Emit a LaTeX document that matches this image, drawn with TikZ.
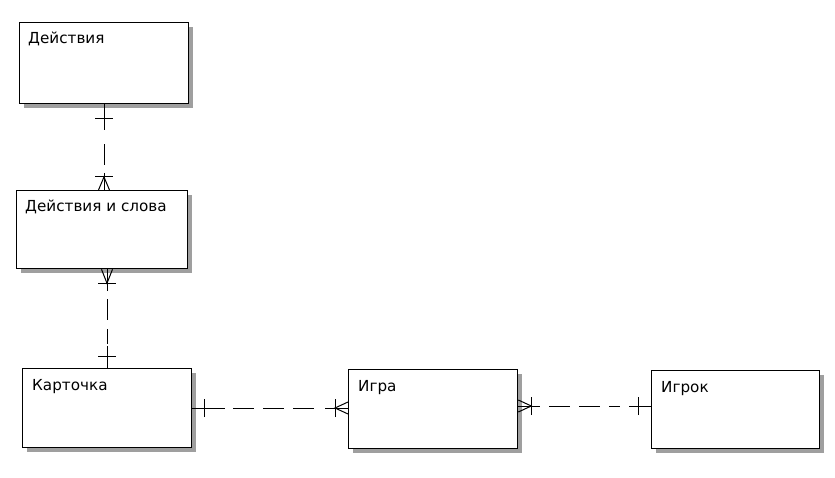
\documentclass[tikz,border=0pt]{standalone}
\usepackage{fontspec}
\setmainfont{DejaVu Sans}
\usetikzlibrary{calc}
\begin{document}
\begin{tikzpicture}[x=1pt,y=1pt,
  entity/.style={draw=black,line width=1.3pt,fill=white,anchor=north west,inner sep=0pt},
  etitle/.style={anchor=base west,inner sep=0pt,font=\fontsize{15.2}{17}\selectfont},
  rel/.style={line width=1pt,dash pattern=on 21pt off 9pt},
  crowmark/.style={line width=1pt}]
\useasboundingbox (0,0) rectangle (835,-478);
% shadows
\fill[gray!75] (24,-27) rectangle (193,-108);
\fill[gray!75] (21,-195) rectangle (192,-273);
\fill[gray!75] (27,-373) rectangle (196,-452);
\fill[gray!75] (353,-374) rectangle (522,-453);
\fill[gray!75] (656,-375) rectangle (824,-453);
% entities
\node[entity,minimum width=169pt,minimum height=81pt] (A) at (19,-22) {};
\node[entity,minimum width=171pt,minimum height=78pt] (B) at (16,-190) {};
\node[entity,minimum width=169pt,minimum height=79pt] (C) at (22,-368) {};
\node[entity,minimum width=169pt,minimum height=79pt] (D) at (348,-369) {};
\node[entity,minimum width=168pt,minimum height=78pt] (E) at (651,-370) {};
\node[etitle] (At) at ($(A.north west)+(9,-22)$) {Действия};
\node[etitle] (Bt) at ($(B.north west)+(9,-22)$) {Действия и слова};
\node[etitle] (Ct) at ($(C.north west)+(10,-22)$) {Карточка};
\node[etitle] (Dt) at ($(D.north west)+(10,-22)$) {Игра};
\node[etitle] (Et) at ($(E.north west)+(10,-22)$) {Игрок};
% connector x / y positions
\coordinate (x1) at (104,0);
\coordinate (x2) at (107,0);
\coordinate (y3) at (0,-408);
\coordinate (y4) at (0,-406);
% connector 1: A (one) -- B (many)
\coordinate (a1) at (A.south -| x1);
\coordinate (b1) at (B.north -| x1);
\draw[crowmark] (a1) -- ($(a1)+(0,-26)$);
\draw[rel] ($(a1)+(0,-40)$) -- ($(b1)+(0,18)$);
\draw[crowmark] ($(b1)+(0,17)$) -- (b1);
\draw[crowmark] ($(a1)+(-9,-14)$) -- ++(18,0);
\draw[crowmark] ($(b1)+(-9,13)$) -- ++(18,0);
\draw[crowmark] ($(b1)+(-5.5,0)$) -- ($(b1)+(0,13)$) -- ($(b1)+(5.5,0)$);
% connector 2: B (many) -- C (one)
\coordinate (b2) at (B.south -| x2);
\coordinate (c2) at (C.north -| x2);
\draw[crowmark] (b2) -- ($(b2)+(0,-22)$);
\draw[rel] ($(b2)+(0,-30)$) -- ($(c2)+(0,24)$);
\draw[crowmark] ($(c2)+(0,22)$) -- (c2);
\draw[crowmark] ($(b2)+(-9,-14)$) -- ++(18,0);
\draw[crowmark] ($(b2)+(-5.5,0)$) -- ($(b2)+(0,-14)$) -- ($(b2)+(5.5,0)$);
\draw[crowmark] ($(c2)+(-9,12)$) -- ++(18,0);
% connector 3: C (one) -- D (many)
\coordinate (c3) at (C.east |- y3);
\coordinate (d3) at (D.west |- y3);
\draw[crowmark] (c3) -- ($(c3)+(33,0)$);
\draw[rel] ($(c3)+(41,0)$) -- ($(d3)+(-31,0)$);
\draw[crowmark] ($(d3)+(-23,0)$) -- (d3);
\draw[crowmark] ($(c3)+(12,-9)$) -- ++(0,18);
\draw[crowmark] ($(d3)+(-13,-9)$) -- ++(0,18);
\draw[crowmark] ($(d3)+(0,6)$) -- ($(d3)+(-13,0)$) -- ($(d3)+(0,-6)$);
% connector 4: D (many) -- E (one)
\coordinate (d4) at (D.east |- y4);
\coordinate (e4) at (E.west |- y4);
\draw[crowmark] (d4) -- ($(d4)+(22,0)$);
\draw[rel] ($(d4)+(31,0)$) -- ($(e4)+(-31,0)$);
\draw[crowmark] ($(e4)+(-22,0)$) -- (e4);
\draw[crowmark] ($(d4)+(13,-9)$) -- ++(0,18);
\draw[crowmark] ($(d4)+(0,6)$) -- ($(d4)+(13,0)$) -- ($(d4)+(0,-6)$);
\draw[crowmark] ($(e4)+(-13,-9)$) -- ++(0,18);
\end{tikzpicture}
\end{document}
